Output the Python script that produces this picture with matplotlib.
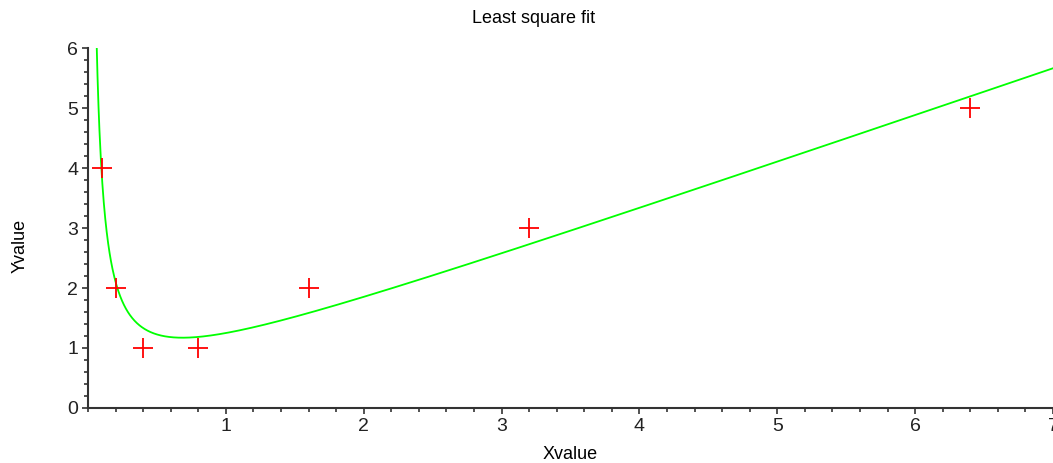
import numpy as np
import matplotlib.pyplot as plt

# measured points
x_data = [0.1, 0.2, 0.4, 0.8, 1.6, 3.2, 6.4]
y_data = [4, 2, 1, 1, 2, 3, 5]

x_ticks = [1, 2, 3, 4, 5, 6, 7]
y_ticks = [0, 1, 2, 3, 4, 5, 6]

# least square fit with y = a + b*x + c/x
xd = np.array(x_data)
A = np.column_stack([np.ones_like(xd), xd, 1 / xd])
coef, *_ = np.linalg.lstsq(A, np.array(y_data, dtype=float), rcond=None)

xf = np.linspace(0.02, 7, 2000)
yf = coef[0] + coef[1] * xf + coef[2] / xf

plt.rcParams['font.family'] = ['Liberation Sans', 'DejaVu Sans']

fig = plt.figure(figsize=(10.53, 4.63), dpi=100)
ax = fig.add_axes([0.0836, 0.1188, 0.9164, 0.7775])

ax.plot(xf, yf, color='#00ff00', lw=1.3)
ax.plot(x_data, y_data, '+', color='red', ms=14, mew=1.3, clip_on=False)

ax.set_xlim(0, 7)
ax.set_ylim(0, 6)
ax.set_xticks(x_ticks)
ax.set_yticks(y_ticks)
ax.set_xticks(np.arange(0, 7.01, 0.2), minor=True)
ax.set_yticks(np.arange(0, 6.01, 0.2), minor=True)
ax.tick_params(which='major', length=4, width=1.2, labelsize=14, pad=3, color='#333333', labelcolor='#222222')
ax.tick_params(which='minor', length=3, width=1.2, color='#333333')

for s in ['top', 'right']:
    ax.spines[s].set_visible(False)
for s in ['left', 'bottom']:
    ax.spines[s].set_linewidth(1.5)
    ax.spines[s].set_color('#333333')

ax.text(0.462, 1.082, 'Least square fit', transform=ax.transAxes,
        ha='center', va='center', fontsize=13)
ax.set_xlabel('Xvalue', fontsize=13)
ax.set_ylabel('Yvalue', fontsize=13)
ax.xaxis.set_label_coords(0.50, -0.105)
ax.yaxis.set_label_coords(-0.062, 0.45)

plt.savefig('out.png', dpi=100)
